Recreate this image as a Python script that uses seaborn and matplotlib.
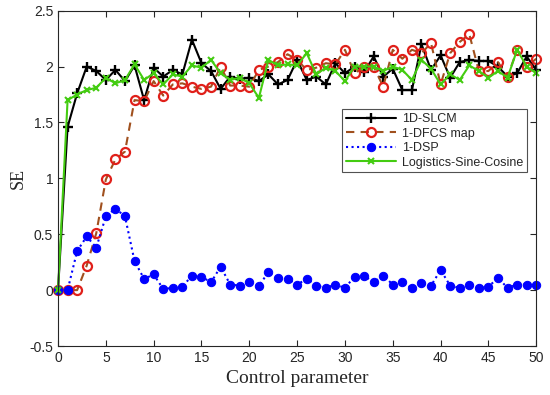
import numpy as np
import pandas as pd
import matplotlib
matplotlib.use("Agg")
import matplotlib.pyplot as plt
import seaborn as sns

# values
x_vals = list(range(0, 51))

slcm = [0, 1.46, 1.76, 2.00, 1.96, 1.88, 1.97, 1.87, 2.01, 1.70,
        1.99, 1.91, 1.97, 1.93, 2.24, 2.03, 1.96, 1.80, 1.91, 1.89,
        1.90, 1.87, 1.93, 1.84, 1.88, 2.06, 1.88, 1.91, 1.84, 2.03,
        1.94, 2.00, 1.95, 2.09, 1.91, 1.98, 1.79, 1.79, 2.20, 1.97,
        2.10, 1.90, 2.04, 2.06, 2.05, 2.05, 2.00, 1.91, 1.94, 2.09,
        1.97]

dfcs = [0, 0, 0, 0.22, 0.51, 0.99, 1.17, 1.24, 1.70, 1.69,
        1.87, 1.74, 1.84, 1.85, 1.82, 1.80, 1.82, 2.00, 1.83, 1.83,
        1.82, 1.97, 2.00, 2.04, 2.11, 2.06, 1.97, 1.99, 2.03, 2.02,
        2.15, 1.94, 2.00, 2.00, 1.82, 2.15, 2.07, 2.15, 2.12, 2.21,
        1.84, 2.12, 2.22, 2.29, 1.96, 1.96, 2.04, 1.91, 2.15, 2.00,
        2.07]

dsp = [0, 0, 0.35, 0.48, 0.38, 0.66, 0.73, 0.66, 0.26, 0.10,
       0.14, 0.01, 0.02, 0.03, 0.13, 0.12, 0.07, 0.21, 0.05, 0.04,
       0.07, 0.04, 0.16, 0.11, 0.10, 0.05, 0.10, 0.04, 0.02, 0.05,
       0.02, 0.12, 0.13, 0.07, 0.13, 0.05, 0.07, 0.02, 0.06, 0.04,
       0.18, 0.04, 0.02, 0.05, 0.02, 0.03, 0.11, 0.02, 0.05, 0.05,
       0.05]

lsc = [0, 1.70, 1.75, 1.79, 1.81, 1.90, 1.85, 1.88, 2.02, 1.88,
       1.94, 1.84, 1.93, 1.91, 2.01, 1.99, 2.06, 1.94, 1.88, 1.90,
       1.85, 1.72, 2.06, 2.01, 2.02, 2.01, 2.12, 1.93, 1.99, 1.96,
       1.87, 2.00, 2.00, 2.00, 1.96, 2.00, 1.97, 1.88, 2.06, 1.98,
       1.84, 1.93, 1.88, 2.01, 1.96, 1.90, 1.96, 1.90, 2.15, 2.00,
       1.94]

x_ticks = list(range(0, 51, 5))
y_ticks = [-0.5, 0, 0.5, 1, 1.5, 2, 2.5]
y_tick_labels = ["-0.5", "0", "0.5", "1", "1.5", "2", "2.5"]

sns.set_theme(style="white")
plt.rcParams['font.family'] = ['Liberation Sans', 'DejaVu Sans']

fig = plt.figure(figsize=(5.5, 3.95), dpi=100)
ax = fig.add_axes([0.1055, 0.124, 0.8695, 0.849])

sns.lineplot(x=x_vals, y=slcm, ax=ax, color='black', linewidth=1.5,
             marker='+', markersize=7.5, markeredgewidth=1.7, markeredgecolor='black',
             label='1D-SLCM', clip_on=False)
sns.lineplot(x=x_vals, y=dfcs, ax=ax, color='#a0501e', linewidth=1.5, linestyle=(0, (4, 3)),
             marker='o', markersize=6.5, markerfacecolor='none', markeredgecolor='#e0201a',
             markeredgewidth=1.6, label='1-DFCS map', clip_on=False)
sns.lineplot(x=x_vals, y=dsp, ax=ax, color='#0000ff', linewidth=1.5, linestyle=':',
             marker='o', markersize=6, markerfacecolor='#0000ff', markeredgecolor='#0000ff',
             label='1-DSP', clip_on=False)
sns.lineplot(x=x_vals, y=lsc, ax=ax, color='#44cc11', linewidth=1.5,
             marker='x', markersize=5, markeredgewidth=1.5, markeredgecolor='#44cc11',
             label='Logistics-Sine-Cosine', clip_on=False)

ax.set_xlim(0, 50)
ax.set_ylim(-0.5, 2.5)
ax.set_xticks(x_ticks)
ax.set_yticks(y_ticks)
ax.set_yticklabels(y_tick_labels)
ax.tick_params(direction='in', length=4, width=0.8, labelsize=10, colors='#262626',
               top=True, right=True, bottom=True, left=True)
for sp in ax.spines.values():
    sp.set_color('#262626')
    sp.set_linewidth(0.8)

ax.set_xlabel('Control parameter', family=['Liberation Serif', 'DejaVu Serif'], fontsize=14, labelpad=4)
ax.set_ylabel('SE', family=['Liberation Serif', 'DejaVu Serif'], fontsize=13, labelpad=2)

leg = ax.legend(loc='upper left', bbox_to_anchor=(0.594, 0.706), fontsize=9,
                handlelength=4, frameon=True, fancybox=False, edgecolor='#262626',
                borderpad=0.3, labelspacing=0.2, handletextpad=0.5, borderaxespad=0)
leg.get_frame().set_linewidth(0.8)

fig.savefig('out.png', dpi=100)
